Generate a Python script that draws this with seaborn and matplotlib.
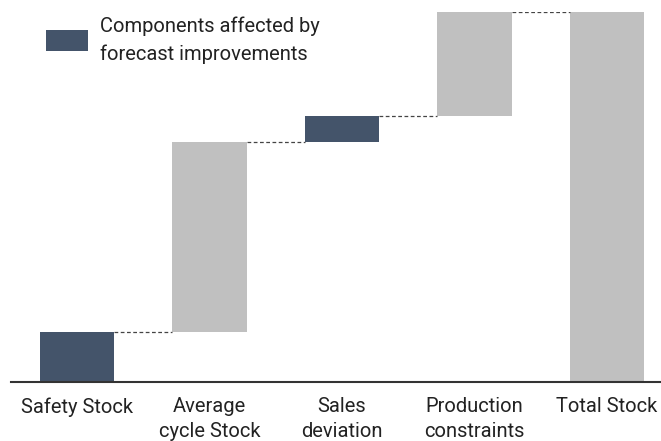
import numpy as np
import pandas as pd
import matplotlib
matplotlib.use("Agg")
import matplotlib.pyplot as plt
from matplotlib.patches import Patch
import seaborn as sns

# waterfall data (share of total stock, %)
categories = ["Safety Stock", "Average\ncycle Stock", "Sales\ndeviation",
              "Production\nconstraints", "Total Stock"]
steps = [13.5, 51.5, 7.0, 28.0]
affected = [True, False, True, False, False]

dark = "#44546a"
grey = "#c0c0c0"

sns.set_theme(style="white")
plt.rcParams["font.family"] = ["Roboto", "DejaVu Sans"]

total = sum(steps)
heights = steps + [total]
bottoms = list(np.cumsum([0] + steps[:-1])) + [0]
tops = [b + h for b, h in zip(bottoms, heights)]

df = pd.DataFrame({"cat": categories, "height": heights})
colors = [dark if a else grey for a in affected]

fig, ax = plt.subplots(figsize=(6.61, 4.41), dpi=100)
fig.subplots_adjust(left=11 / 661, right=660 / 661, bottom=1 - 382 / 441, top=1 - 12 / 441)

sns.barplot(data=df, x="cat", y="height", hue="cat", palette=colors,
            width=0.56, legend=False, ax=ax, saturation=1, linewidth=0)

# lift the floating bars
for patch, b in zip(ax.patches, bottoms):
    patch.set_y(b)

# dashed connectors
w = 0.56
for i in range(len(steps)):
    ax.plot([i + w / 2, i + 1 - w / 2], [tops[i], tops[i]],
            ls=(0, (3, 2)), color="#444444", lw=0.9)

ax.set_xlim(-0.498, 4.40)
ax.set_ylim(0, total)
ax.set_xlabel("")
ax.set_ylabel("")
ax.set_yticks([])
for s in ["top", "right", "left"]:
    ax.spines[s].set_visible(False)
ax.spines["bottom"].set_color("#333333")
ax.spines["bottom"].set_linewidth(1.5)
ax.tick_params(axis="x", length=0, pad=11, labelsize=14.5, colors="#222222")
for lab in ax.get_xticklabels():
    lab.set_linespacing(1.4)

handle = Patch(facecolor=dark, edgecolor="none")
leg = ax.legend([handle], ["Components affected by\nforecast improvements"],
                loc="upper left", bbox_to_anchor=(28 / 661, 1 + 2 / 441),
                bbox_transform=fig.transFigure, frameon=False, fontsize=14.5,
                handlelength=2.1, handleheight=1.25, handletextpad=0.6)
for t in leg.get_texts():
    t.set_linespacing(1.55)
    t.set_color("#222222")

fig.savefig("out.png", dpi=100)
